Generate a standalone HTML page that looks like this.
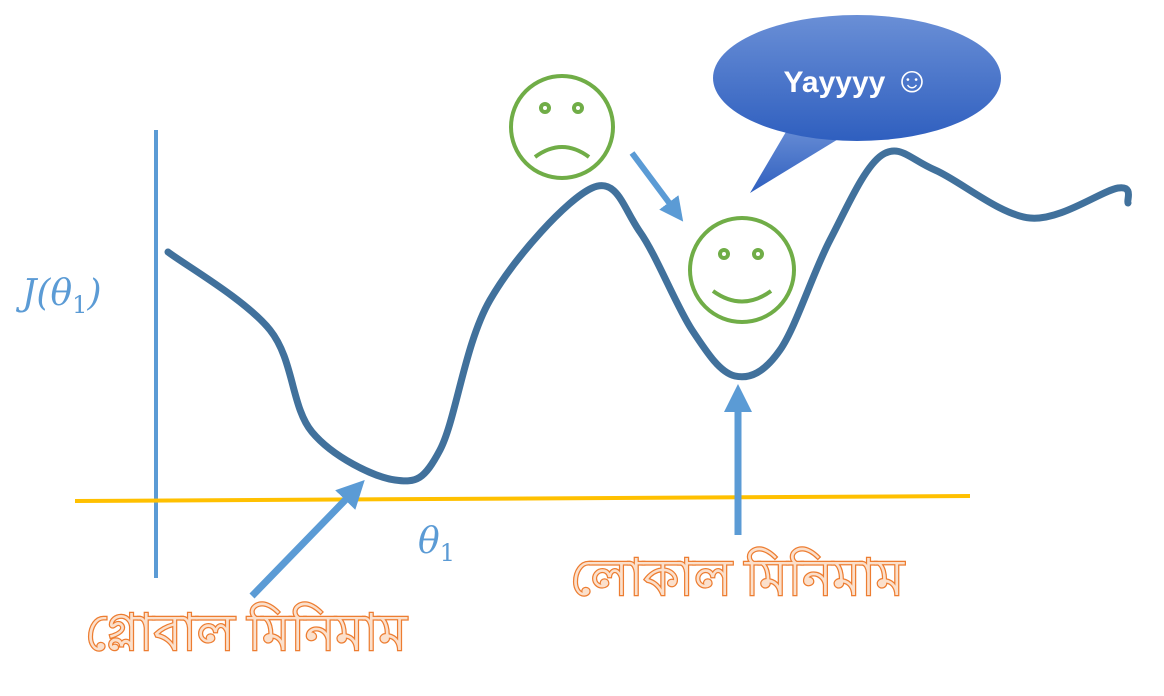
<!DOCTYPE html>
<html><head><meta charset="utf-8"><style>
html,body{margin:0;padding:0;background:#fff;width:1164px;height:696px;overflow:hidden}
svg{display:block}
.bn{font-family:"Liberation Serif","Noto Sans CJK SC",serif;font-size:51px;fill:#fbe0cc;stroke:#ed7d31;stroke-width:2.5;paint-order:stroke}
</style></head><body>
<svg width="1164" height="696" viewBox="0 0 1164 696">
<defs>
<linearGradient id="bg" x1="0" y1="0" x2="0" y2="1"><stop offset="0" stop-color="#6a8fd6"/><stop offset="1" stop-color="#2f5fbf"/></linearGradient>
<marker id="ah" markerWidth="4" markerHeight="4" refX="2" refY="2" orient="auto" markerUnits="strokeWidth"><path d="M0,0 L4,2 L0,4 z" fill="#5b9bd5"/></marker>
</defs>
<line x1="156" y1="130" x2="156" y2="578" stroke="#5b9bd5" stroke-width="4"/>
<line x1="75" y1="501" x2="970" y2="496" stroke="#ffc000" stroke-width="4"/>
<text x="22" y="305" font-family="DejaVu Serif,serif" font-style="italic" font-size="36" fill="#5b9bd5">J(θ<tspan font-size="24" dy="8" font-style="normal">1</tspan><tspan dy="-8">)</tspan></text>
<text x="418" y="553" font-family="DejaVu Serif,serif" font-style="italic" font-size="36" fill="#5b9bd5">θ<tspan font-size="24" dy="8" font-style="normal">1</tspan></text>
<path id="curve" fill="none" stroke="#41719c" stroke-width="7" stroke-linecap="round" stroke-linejoin="round"/>
<line x1="252" y1="596" x2="355" y2="490" stroke="#5b9bd5" stroke-width="7" marker-end="url(#ah)"/>
<line x1="738" y1="535" x2="738" y2="398" stroke="#5b9bd5" stroke-width="7" marker-end="url(#ah)"/>
<line x1="632" y1="153" x2="676" y2="212" stroke="#5b9bd5" stroke-width="6" marker-end="url(#ah)"/>
<g stroke="#70ad47" stroke-width="4" fill="none">
<circle cx="562" cy="127" r="51"/><circle cx="545" cy="108" r="4"/><circle cx="578" cy="108" r="4"/>
<path d="M535,157 Q562,137 589,157"/></g>
<g stroke="#70ad47" stroke-width="4" fill="none">
<circle cx="742" cy="270" r="52"/><circle cx="724" cy="254" r="4"/><circle cx="758" cy="254" r="4"/>
<path d="M713,291 Q742,312 771,291"/></g>
<g>
<path d="M790,125 L750,193 L840,138 z" fill="url(#bg)"/>
<ellipse cx="857" cy="78" rx="144" ry="63" fill="url(#bg)"/>
<text x="857" y="92" text-anchor="middle" font-family="Liberation Sans,sans-serif" font-weight="bold" font-size="30" fill="#fff">Yayyyy <tspan font-size="36" font-weight="normal">☺</tspan></text>
</g>
<text x="85" y="650" class="bn">গ্লোবাল মিনিমাম</text>
<text x="570" y="595" class="bn">লোকাল মিনিমাম</text>
</svg>
<script>
const xs=[168,270,312,395,440,490,592,640,692,735,780,830,882,935,1030,1118,1128];
const ys=[252,330,432,480,450,300,188,232,330,376,350,240,155,170,218,188,203];
let d="M"+xs[0]+","+ys[0];
for(let i=0;i<xs.length-1;i++){
 const p0=i>0?i-1:i,p3=i+2<xs.length?i+2:i+1;
 const c1x=xs[i]+(xs[i+1]-xs[p0])/6,c1y=ys[i]+(ys[i+1]-ys[p0])/6;
 const c2x=xs[i+1]-(xs[p3]-xs[i])/6,c2y=ys[i+1]-(ys[p3]-ys[i])/6;
 d+=" C"+c1x+","+c1y+" "+c2x+","+c2y+" "+xs[i+1]+","+ys[i+1];
}
document.getElementById('curve').setAttribute('d',d);
</script>
</body></html>
